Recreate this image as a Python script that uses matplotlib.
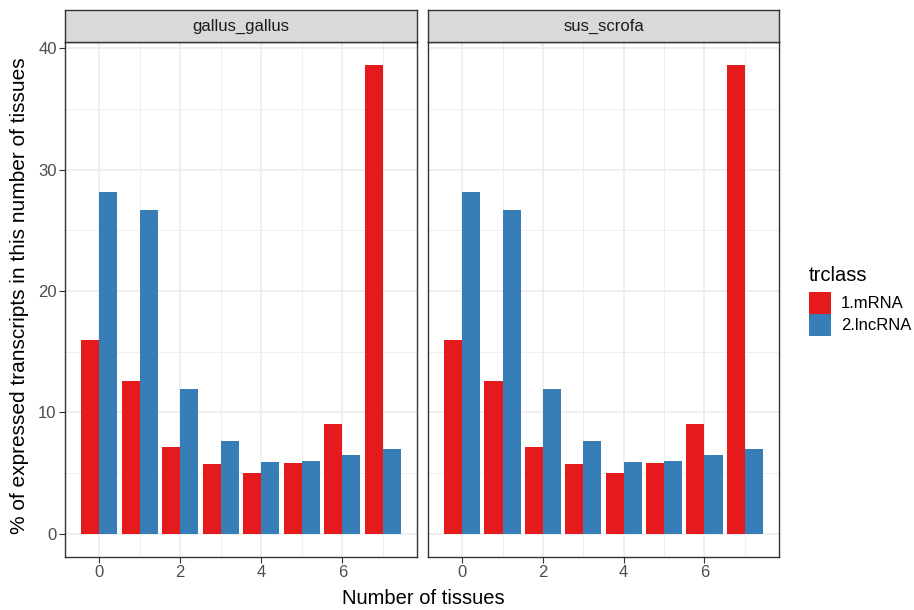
import numpy as np
import matplotlib
matplotlib.use("Agg")
from matplotlib import pyplot as plt
from matplotlib.patches import Patch

plt.rcParams['font.family'] = ['Liberation Sans', 'DejaVu Sans']

# data (same values in both facets)
species = ['gallus_gallus', 'sus_scrofa']
n_tissues = np.arange(8)
mrna = [16.0, 12.6, 7.15, 5.7, 5.0, 5.8, 9.0, 38.6]
lncrna = [28.15, 26.7, 11.95, 7.65, 5.9, 6.0, 6.5, 6.95]
classes = ['1.mRNA', '2.lncRNA']
colors = ['#E41A1C', '#377EB8']

W, H = 914, 610
fig = plt.figure(figsize=(W / 100, H / 100), dpi=100)

panels = [(65, 417), (428, 779)]
strip_top, top_px, bot_px = 10, 42, 557

for i, (sp, (x0, x1)) in enumerate(zip(species, panels)):
    ax = fig.add_axes([x0 / W, 1 - bot_px / H, (x1 - x0) / W, (bot_px - top_px) / H])
    bw = 0.45
    ax.bar(n_tissues - bw / 2, mrna, width=bw, color=colors[0], zorder=3)
    ax.bar(n_tissues + bw / 2, lncrna, width=bw, color=colors[1], zorder=3)
    ax.set_xlim(-0.845, 7.845)
    ax.set_ylim(-1.93, 40.53)
    ax.set_xticks([0, 2, 4, 6])
    ax.set_xticks([1, 3, 5, 7], minor=True)
    ax.set_yticks([0, 10, 20, 30, 40])
    ax.set_yticks([5, 15, 25, 35], minor=True)
    ax.grid(True, which='major', color='#EBEBEB', lw=1.1, zorder=0)
    ax.grid(True, which='minor', color='#EBEBEB', lw=0.55, zorder=0)
    ax.tick_params(which='minor', length=0)
    ax.tick_params(which='major', length=4, width=0.8, color='#333333',
                   labelsize=12, labelcolor='#4D4D4D', pad=2)
    for s in ax.spines.values():
        s.set_color('#333333')
        s.set_linewidth(1.0)
    if i > 0:
        ax.tick_params(axis='y', left=False, labelleft=False)

    # facet strip
    sax = fig.add_axes([x0 / W, 1 - top_px / H, (x1 - x0) / W, (top_px - strip_top) / H])
    sax.set_facecolor('#D9D9D9')
    sax.set_xticks([])
    sax.set_yticks([])
    for s in sax.spines.values():
        s.set_color('#333333')
        s.set_linewidth(1.0)
    sax.text(0.5, 0.5, sp, ha='center', va='center', fontsize=12,
             color='#1A1A1A', transform=sax.transAxes)

fig.text(20 / W, 1 - 296 / H, '% of expressed transcripts in this number of tissues',
         rotation=90, ha='center', va='center', fontsize=15)
fig.text(423 / W, 1 - 598 / H, 'Number of tissues', ha='center', va='center', fontsize=14.5)

handles = [Patch(facecolor=c, edgecolor='none') for c in colors]
leg = fig.legend(handles, classes, title='trclass', loc='upper left',
                 bbox_to_anchor=(809 / W, 1 - 266 / H), frameon=False,
                 fontsize=12, title_fontsize=14.5, handlelength=1.32,
                 handleheight=1.65, handletextpad=0.6, labelspacing=0.0,
                 borderaxespad=0, borderpad=0)
leg._legend_box.align = 'left'
leg._legend_box.sep = 5

fig.savefig('out.png', dpi=100)
